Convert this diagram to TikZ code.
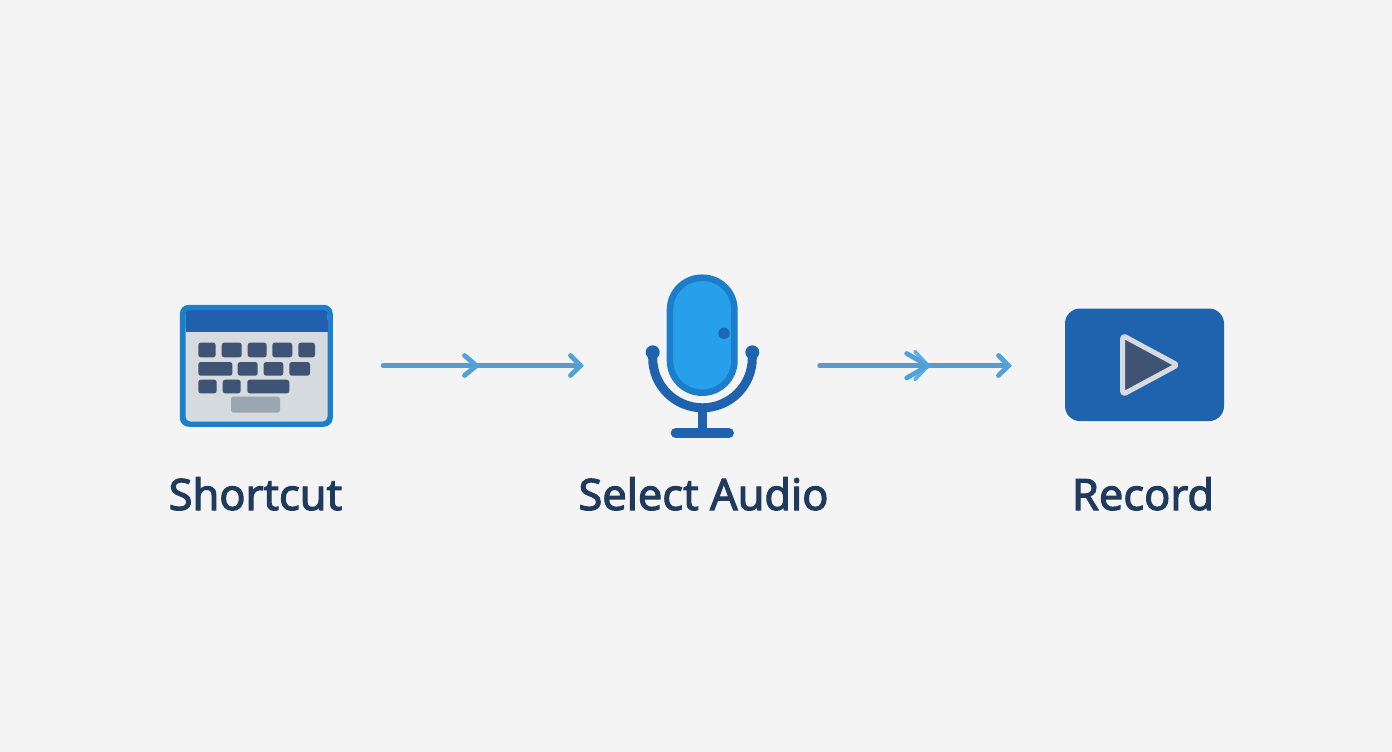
\documentclass[tikz,border=0pt]{standalone}
\usepackage{fontspec}
\setmainfont{Noto Sans}
\newfontfamily\labelfont{Noto Sans}[FakeBold=2.4]
\usetikzlibrary{arrows.meta}
\definecolor{bgc}{HTML}{F4F4F4}
\definecolor{txt}{HTML}{1F3A5C}
\definecolor{edge}{HTML}{1C7FC9}
\definecolor{band}{HTML}{2160AE}
\definecolor{pane}{HTML}{D5DBDF}
\definecolor{keyc}{HTML}{3F5375}
\definecolor{spacec}{HTML}{9BA6B1}
\definecolor{capsule}{HTML}{27A0EC}
\definecolor{capedge}{HTML}{1C7DCB}
\definecolor{stand}{HTML}{1F62AE}
\definecolor{linec}{HTML}{5B9ACB}
\definecolor{chev}{HTML}{4FA3DA}
\definecolor{chevb}{HTML}{5CB2DE}
\tikzset{
  x=1pt,y=-1pt,
  label text/.style={font=\labelfont\fontsize{43.3}{50}\selectfont,text=txt,anchor=base,inner sep=0pt},
  keycap/.style={fill=keyc,rounded corners=2.5pt,draw=none},
  connector/.style={draw=linec,line width=4.5pt,line cap=round},
  chevron/.style={draw=chev,line width=4.8pt,line cap=round,line join=miter},
  standline/.style={draw=stand,line width=9pt,line cap=round},
}
\begin{document}
\begin{tikzpicture}
\useasboundingbox (0,0) rectangle (1392,752);
\fill[bgc] (0,0) rectangle (1392,752);
% keyboard
\node[fill=edge,rounded corners=9pt,minimum width=153pt,minimum height=122pt,inner sep=0pt] (kbd) at (256.3,365.8) {};
\fill[pane,rounded corners=5pt] (185.5,310) rectangle (327.5,421.5);
\fill[band,rounded corners=4pt] (185.5,310) rectangle (327.5,331.5);
\fill[band] (185.5,320) rectangle (327.5,331.5);
\foreach \a/\b in {198.3/215.7,221.7/241.7,247.7/266.7,272.3/292.3,298.3/315}
  \path[keycap] (\a,342.7) rectangle (\b,357.3);
\foreach \a/\b in {198.3/232.3,237.7/257.7,263.7/283.3,289.3/310}
  \path[keycap] (\a,362) rectangle (\b,375.7);
\foreach \a/\b in {198.3/216.7,222.7/240.7,247.3/289.3}
  \path[keycap] (\a,379.7) rectangle (\b,393.3);
\fill[spacec,rounded corners=2.5pt] (231,396.7) rectangle (280,412.7);
% microphone
\draw[standline] (652.7,352.3) -- (652.7,358) arc[start angle=180,end angle=0,radius=49.8] -- (752.3,352.3);
\fill[stand] (652.7,352.3) circle[radius=7];
\fill[stand] (752.3,352.3) circle[radius=7];
\draw[draw=stand,line width=9pt] (702.5,408) -- (702.5,433);
\draw[draw=stand,line width=10pt,line cap=round] (675.7,433) -- (729,433);
\node[fill=capsule,draw=capedge,line width=6.5pt,rounded corners=32pt,minimum width=64.5pt,minimum height=115pt,inner sep=0pt] (mic) at (702.2,335.2) {};
\fill[stand!80!capedge] (724,333.3) circle[radius=5.7];
% play
\node[fill=stand,rounded corners=15pt,minimum width=159pt,minimum height=112.5pt,inner sep=0pt] (play) at (1144.5,364.8) {};
\draw[fill=keyc,draw=pane,line width=5pt,line join=round,rounded corners=3pt] (1122.7,335.5) -- (1177.5,365) -- (1122.7,394.5) -- cycle;
% connector 1
\coordinate (a1s) at (383,365.7);
\coordinate (a1e) at (580.5,365.7);
\coordinate (a1m) at (476.5,365.7);
\draw[connector] (a1s) -- (a1e);
\draw[chevron] (464.5,355.5) -- (a1m) -- (464.5,375.5);
\draw[chevron] (570.5,355.5) -- (a1e) -- (570.5,375.5);
% connector 2
\coordinate (a2s) at (819.5,365.7);
\coordinate (a2e) at (1008.5,365.7);
\coordinate (a2m) at (928,365.7);
\draw[connector] (a2s) -- (a2e);
\draw[chevron,draw=chevb,line width=3.6pt] (915,351.5) -- (a2m) -- (915,379.5);
\draw[chevron] (906.7,353.5) -- (a2m) -- (906.7,378);
\draw[chevron] (998.5,355.5) -- (a2e) -- (998.5,375.5);
% labels
\node[label text] (l1) at (255.5,510) {Shortcut};
\node[label text] (l2) at (703.5,510) {Select Audio};
\node[label text] (l3) at (1143,510) {Record};
\end{tikzpicture}
\end{document}
